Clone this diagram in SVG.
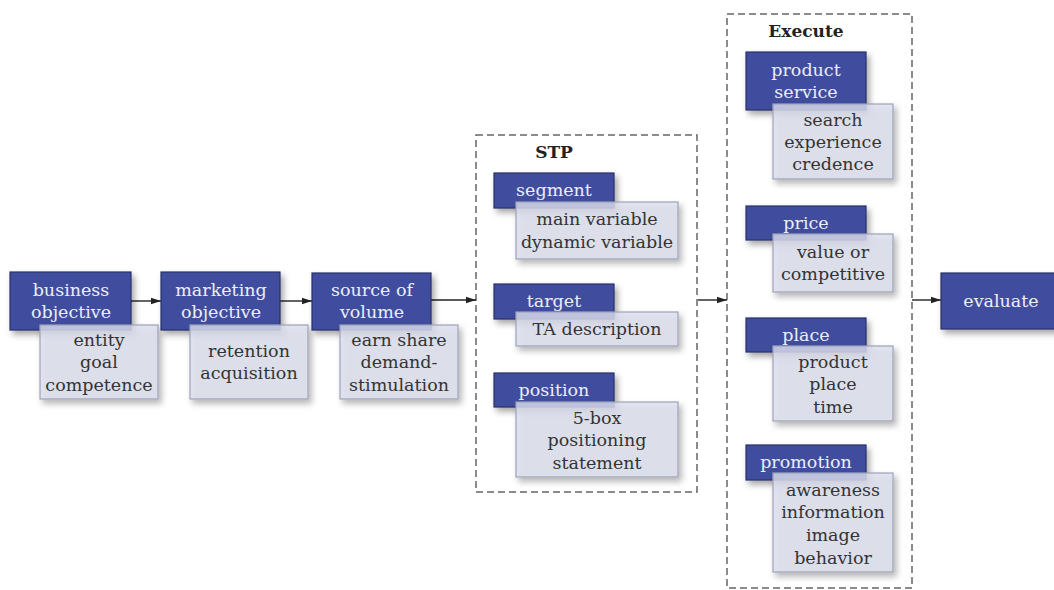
<svg xmlns="http://www.w3.org/2000/svg" width="1054" height="590" viewBox="0 0 1054 590">
<defs>
<filter id="sh" x="-20%" y="-20%" width="150%" height="160%">
<feDropShadow dx="3" dy="4" stdDeviation="3" flood-color="#000" flood-opacity="0.35"/>
</filter>
<marker id="ah" viewBox="0 0 10 10" refX="10" refY="5" markerWidth="10" markerHeight="10" markerUnits="userSpaceOnUse" orient="auto">
<path d="M0,1.8 L10,5 L0,8.2 Z" fill="#222"/>
</marker>
</defs>
<style>
.dk{fill:#3f4e9e;stroke:#27306a;stroke-width:1.2;filter:url(#sh)}
.lt{fill:#dcdfee;fill-opacity:0.8;stroke:#9ea2b8;stroke-width:1.2;filter:url(#sh)}
.dt{font-family:"DejaVu Serif",serif;font-size:17.5px;fill:#eceef8;text-anchor:middle}
.lx{font-family:"DejaVu Serif",serif;font-size:17.5px;fill:#333;text-anchor:middle}
.hd{font-family:"DejaVu Serif",serif;font-size:17px;font-weight:bold;fill:#222;text-anchor:middle}
.dash{fill:none;stroke:#666;stroke-width:1.5;stroke-dasharray:7 4}
.cn{stroke:#222;stroke-width:1.4;fill:none;marker-end:url(#ah)}
</style>
<rect width="1054" height="590" fill="#fff"/>

<g id="stp-group">
<rect class="dash" x="476" y="135" width="221" height="357"/>
<text class="hd" x="554" y="158">STP</text>
</g>
<g id="execute-group">
<rect class="dash" x="727" y="14" width="185" height="574"/>
<text class="hd" x="806" y="37">Execute</text>
</g>

<g id="connectors">
<line class="cn" x1="131" y1="301" x2="161" y2="301"/>
<line class="cn" x1="280" y1="301" x2="312" y2="301"/>
<line class="cn" x1="431" y1="300" x2="476" y2="300"/>
<line class="cn" x1="698" y1="300" x2="727" y2="300"/>
<line class="cn" x1="912" y1="300" x2="941" y2="300"/>
</g>

<g id="business-objective">
<rect class="dk" x="10" y="272" width="121" height="58"/>
<text class="dt" x="71" y="296">business</text>
<text class="dt" x="71" y="318">objective</text>
<rect class="lt" x="40" y="325" width="118" height="74"/>
<text class="lx" x="99" y="346">entity</text>
<text class="lx" x="99" y="368">goal</text>
<text class="lx" x="99" y="391">competence</text>
</g>

<g id="marketing-objective">
<rect class="dk" x="161" y="272" width="119" height="58"/>
<text class="dt" x="221" y="296">marketing</text>
<text class="dt" x="221" y="318">objective</text>
<rect class="lt" x="190" y="325" width="118" height="74"/>
<text class="lx" x="249" y="357">retention</text>
<text class="lx" x="249" y="379">acquisition</text>
</g>

<g id="source-of-volume">
<rect class="dk" x="312" y="273" width="119" height="57"/>
<text class="dt" x="372" y="296">source of</text>
<text class="dt" x="372" y="318">volume</text>
<rect class="lt" x="340" y="325" width="118" height="74"/>
<text class="lx" x="399" y="346">earn share</text>
<text class="lx" x="399" y="368">demand-</text>
<text class="lx" x="399" y="391">stimulation</text>
</g>

<g id="segment">
<rect class="dk" x="494" y="173" width="120" height="35"/>
<text class="dt" x="554" y="196">segment</text>
<rect class="lt" x="516" y="202" width="162" height="57"/>
<text class="lx" x="597" y="225">main variable</text>
<text class="lx" x="597" y="248">dynamic variable</text>
</g>

<g id="target">
<rect class="dk" x="494" y="284" width="120" height="35"/>
<text class="dt" x="554" y="307">target</text>
<rect class="lt" x="516" y="312" width="162" height="34"/>
<text class="lx" x="597" y="335">TA description</text>
</g>

<g id="position">
<rect class="dk" x="494" y="373" width="120" height="34"/>
<text class="dt" x="554" y="396">position</text>
<rect class="lt" x="516" y="402" width="162" height="75"/>
<text class="lx" x="597" y="424">5-box</text>
<text class="lx" x="597" y="446">positioning</text>
<text class="lx" x="597" y="469">statement</text>
</g>

<g id="product-service">
<rect class="dk" x="746" y="52" width="120" height="58"/>
<text class="dt" x="806" y="76">product</text>
<text class="dt" x="806" y="98">service</text>
<rect class="lt" x="773" y="104" width="120" height="75"/>
<text class="lx" x="833" y="126">search</text>
<text class="lx" x="833" y="148">experience</text>
<text class="lx" x="833" y="170">credence</text>
</g>

<g id="price">
<rect class="dk" x="746" y="206" width="120" height="34"/>
<text class="dt" x="806" y="229">price</text>
<rect class="lt" x="773" y="234" width="120" height="58"/>
<text class="lx" x="833" y="258">value or</text>
<text class="lx" x="833" y="280">competitive</text>
</g>

<g id="place">
<rect class="dk" x="746" y="318" width="120" height="34"/>
<text class="dt" x="806" y="341">place</text>
<rect class="lt" x="773" y="346" width="120" height="75"/>
<text class="lx" x="833" y="368">product</text>
<text class="lx" x="833" y="390">place</text>
<text class="lx" x="833" y="413">time</text>
</g>

<g id="promotion">
<rect class="dk" x="746" y="445" width="120" height="35"/>
<text class="dt" x="806" y="468">promotion</text>
<rect class="lt" x="773" y="473" width="120" height="99"/>
<text class="lx" x="833" y="496">awareness</text>
<text class="lx" x="833" y="518">information</text>
<text class="lx" x="833" y="541">image</text>
<text class="lx" x="833" y="564">behavior</text>
</g>

<g id="evaluate">
<rect class="dk" x="941" y="273" width="122" height="56"/>
<text class="dt" x="1001" y="307">evaluate</text>
</g>
</svg>
